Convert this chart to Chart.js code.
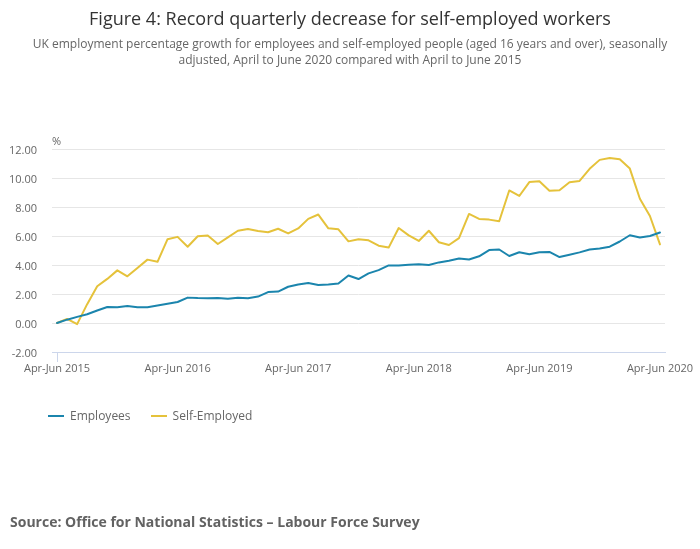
<!DOCTYPE html>
<html>
<head>
<meta charset="utf-8">
<script src="https://cdn.jsdelivr.net/npm/chart.js@4.4.1/dist/chart.umd.min.js"></script>
<style>
  body { margin: 0; background: #fff; font-family: "Open Sans", sans-serif; }
  #wrap { position: relative; width: 700px; height: 549px; overflow: hidden; background: #fff; }
  #c { position: absolute; left: 0; top: 0; }
  .t { position: absolute; left: 0; width: 700px; text-align: center; }
  #title { top: 5px; font-size: 18px; color: #333; line-height: 26px; }
  #sub { top: 36px; font-size: 12px; color: #666; line-height: 16px; }
  #legend { position: absolute; top: 407px; left: 48px; font-size: 12px; color: #666; display: flex; line-height: 18px; }
  .li { display: flex; align-items: center; margin-right: 20px; }
  .sw { display: inline-block; width: 16px; height: 2px; margin-right: 6px; }
  #source { position: absolute; left: 10px; top: 511px; font-size: 14px; font-weight: bold; color: #626262; line-height: 22px; }
</style>
</head>
<body>
<div id="wrap">
  <canvas id="c" width="700" height="549"></canvas>
  <div id="title" class="t">Figure 4: Record quarterly decrease for self-employed workers</div>
  <div id="sub" class="t">UK employment percentage growth for employees and self-employed people (aged 16 years and over), seasonally<br>adjusted, April to June 2020 compared with April to June 2015</div>
  <div id="legend"></div>
  <div id="source">Source: Office for National Statistics – Labour Force Survey</div>
</div>
<script>
// ---- Data ----
const monthNames = ['Jan','Feb','Mar','Apr','May','Jun','Jul','Aug','Sep','Oct','Nov','Dec'];
const firstYear = 2015;
const periodCount = 61; // Apr-Jun 2015 ... Apr-Jun 2020 (rolling quarters)
const categories = [];
for (let i = 0; i < periodCount; i++) {
  const s = (3 + i) % 12, e = (5 + i) % 12, y = firstYear + Math.floor((5 + i) / 12);
  categories.push(monthNames[s] + '-' + monthNames[e] + ' ' + y);
}
const tickEvery = 12;

const employees = [
  0.00, 0.23, 0.42, 0.60, 0.86, 1.10, 1.08, 1.17, 1.08, 1.08,
  1.20, 1.32, 1.45, 1.75, 1.72, 1.71, 1.73, 1.68, 1.74, 1.71,
  1.82, 2.13, 2.17, 2.50, 2.65, 2.76, 2.62, 2.66, 2.72, 3.28,
  3.03, 3.42, 3.65, 3.97, 3.97, 4.01, 4.05, 4.00, 4.18, 4.30,
  4.45, 4.38, 4.60, 5.03, 5.07, 4.62, 4.88, 4.74, 4.88, 4.90,
  4.55, 4.71, 4.87, 5.07, 5.14, 5.26, 5.62, 6.05, 5.90, 6.00,
  6.24
];
const selfEmployed = [
  0.00, 0.28, -0.08, 1.30, 2.53, 3.04, 3.63, 3.22, 3.80, 4.37,
  4.22, 5.78, 5.94, 5.26, 5.98, 6.03, 5.45, 5.90, 6.36, 6.48,
  6.34, 6.26, 6.50, 6.18, 6.52, 7.18, 7.48, 6.53, 6.46, 5.63,
  5.78, 5.70, 5.33, 5.20, 6.55, 6.04, 5.66, 6.36, 5.57, 5.38,
  5.85, 7.52, 7.18, 7.13, 7.02, 9.14, 8.76, 9.72, 9.77, 9.12,
  9.16, 9.71, 9.80, 10.63, 11.25, 11.38, 11.30, 10.65, 8.57, 7.38,
  5.42
];
const seriesNames = ['Employees', 'Self-Employed'];
const seriesColors = ['#1b85ad', '#e5c23b'];
const yMin = -2, yMax = 12, yStep = 2;

// ---- Chart ----
const pctLabel = {
  id: 'pctLabel',
  afterDraw(chart) {
    const { ctx, chartArea } = chart;
    ctx.save();
    ctx.font = '11px "Open Sans"';
    ctx.fillStyle = '#666';
    ctx.textAlign = 'left';
    ctx.textBaseline = 'middle';
    ctx.fillText('%', chartArea.left, chartArea.top - 7);
    ctx.restore();
  }
};

const chart = new Chart(document.getElementById('c'), {
  type: 'line',
  data: {
    labels: categories,
    datasets: [
      { label: seriesNames[0], data: employees, borderColor: seriesColors[0], backgroundColor: seriesColors[0] },
      { label: seriesNames[1], data: selfEmployed, borderColor: seriesColors[1], backgroundColor: seriesColors[1] }
    ]
  },
  options: {
    responsive: false,
    animation: false,
    events: [],
    layout: { padding: { top: 149, left: 10, right: 35, bottom: 149 } },
    elements: {
      line: { borderWidth: 2, tension: 0, borderCapStyle: 'round', borderJoinStyle: 'round' },
      point: { radius: 0 }
    },
    plugins: { legend: { display: false }, title: { display: false }, tooltip: { enabled: false } },
    scales: {
      x: {
        offset: true,
        afterFit(scale) { scale.height = 48; },
        grid: {
          offset: false,
          drawOnChartArea: false,
          drawTicks: true,
          tickLength: 10,
          color: (ctx) => (ctx.index % tickEvery === 0 ? '#ccd6eb' : 'rgba(0,0,0,0)')
        },
        border: { display: true, color: '#ccd6eb', width: 1 },
        ticks: {
          autoSkip: false,
          maxRotation: 0,
          minRotation: 0,
          padding: 0,
          color: '#666',
          font: { family: '"Open Sans"', size: 11 },
          callback: function (v, i) { return i % tickEvery === 0 ? this.getLabelForValue(v) : null; }
        }
      },
      y: {
        min: yMin,
        max: yMax,
        afterFit(scale) { scale.width = 42; },
        ticks: {
          stepSize: yStep,
          padding: 15,
          labelOffset: 2,
          color: '#666',
          font: { family: '"Open Sans"', size: 11 },
          callback: (v) => Number(v).toFixed(2)
        },
        grid: { color: '#e6e6e6', drawTicks: false, lineWidth: 1 },
        border: { display: false }
      }
    }
  },
  plugins: [pctLabel]
});

// HTML legend built from the chart's datasets
const legendEl = document.getElementById('legend');
chart.data.datasets.forEach(ds => {
  const item = document.createElement('div');
  item.className = 'li';
  const sw = document.createElement('span');
  sw.className = 'sw';
  sw.style.background = ds.borderColor;
  const tx = document.createElement('span');
  tx.textContent = ds.label;
  item.appendChild(sw);
  item.appendChild(tx);
  legendEl.appendChild(item);
});
</script>
</body>
</html>
